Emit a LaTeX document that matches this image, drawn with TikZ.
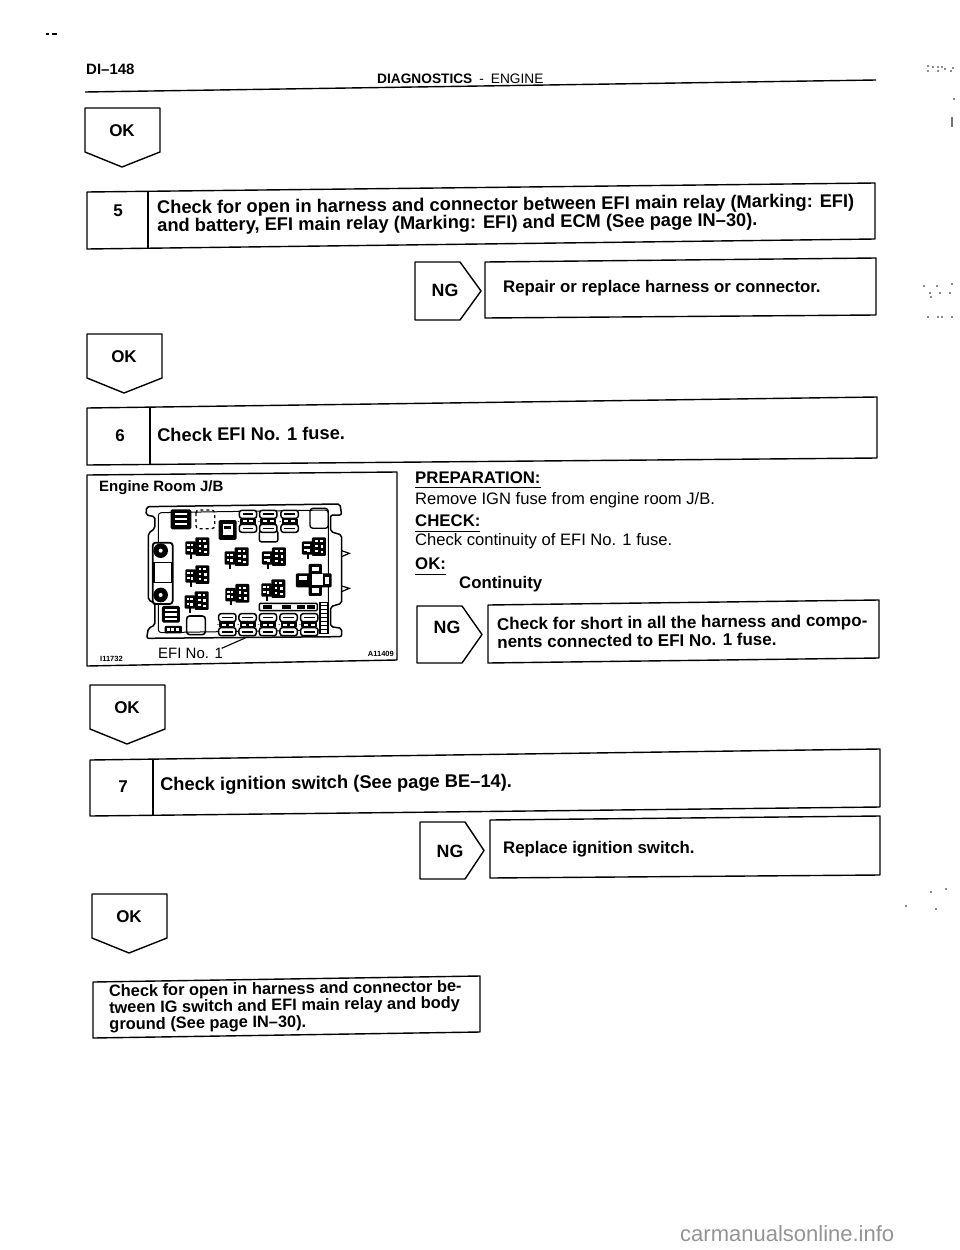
\documentclass[tikz,border=0pt]{standalone}
\usepackage{fontspec}
\setmainfont{Liberation Sans}
\usetikzlibrary{calc}
\newcommand{\bodysize}{\fontsize{18.3}{18}\selectfont}
\tikzset{
  x=1pt,y=-1pt,
  shp/.style={draw=black,line width=1.4pt,line join=round,fill=white},
  rulel/.style={draw=black,line width=1.4pt},
  bt/.style={inner sep=0pt,anchor=west,font=\bodysize\bfseries,align=left,text=black},
  bs/.style={inner sep=0pt,anchor=west,font=\fontsize{16.8}{17}\selectfont\bfseries,align=left,text=black},
  rt/.style={inner sep=0pt,anchor=west,font=\fontsize{16.6}{18}\selectfont,text=black},
  lab/.style={inner sep=0pt,font=\fontsize{17}{18}\selectfont\bfseries,text=black},
  ul/.style={draw=black,line width=1pt},
  fz/.style={fill=black},
  ln/.style={draw=black,line width=1.5pt,fill=none,line join=round},
  lobe/.style={draw=black,line width=1.5pt,fill=white,rounded corners=2.5pt},
  wt/.style={fill=white},
  speck/.style={fill=black!45},
}
% OK tag: name, x, y
\newcommand{\oktag}[3]{
  \draw[shp] (#2,#3) -- ++(75,0) -- ++(0,44) -- ++(-38,15) -- ++(-37,-15) -- cycle;
  \node[lab] (#1) at ($(#2,#3)+(37,23)$) {OK};
}
% NG tag: name, x, top, bottom, shoulder x, tip x, label y
\newcommand{\ngtag}[7]{
  \draw[shp] (#2,#3) -- (#5,#3) -- (#6,{(#3+#4)/2}) -- (#5,#4) -- (#2,#4) -- cycle;
  \node[lab,font=\fontsize{17.8}{18}\selectfont\bfseries] (#1) at ({#2+30},#7) {NG};
}
% small relay block (zoom coordinates)
\newcommand{\relayblock}[2]{
  \begin{scope}[shift={(#1,#2)}]
    \fill[fz,rounded corners=1pt] (-36,-18) rectangle (-4,22);
    \fill[fz,rounded corners=1pt] (-6,-30) rectangle (36,26);
    \fill[fz] (-22,20) rectangle (-16,34);
    \foreach \a/\b in {-30/-10,-20/-10,-30/4,-20/6,4/-22,18/-22,4/-8,20/-6,4/8,20/10}
      \fill[wt] (\a,\b) rectangle ++(8,7);
  \end{scope}
}
% fuse stack (zoom coordinates)
\newcommand{\fusestack}[2]{
  \begin{scope}[shift={(#1,#2)}]
    \fill[fz] (-24,-8) rectangle (24,8);
    \draw[lobe] (-26,-33) rectangle (26,-9);
    \draw[lobe] (-26,9) rectangle (26,33);
    \fill[wt] (-16,-3) rectangle (-4,3);
    \fill[wt] (4,-3) rectangle (16,3);
    \fill[fz] (-26,-1) -- (-32,0) -- (-26,1) -- cycle;
    \fill[fz] (-16,-24) rectangle (16,-19);
    \fill[fz] (-16,19) rectangle (16,24);
  \end{scope}
}
\begin{document}
\begin{tikzpicture}
\useasboundingbox (0,0) rectangle (960,1250);
\fill[white] (0,0) rectangle (960,1250);

% header
\node[lab,anchor=west,font=\fontsize{15}{15}\selectfont\bfseries] (page) at (86,69) {DI--148};
\node[inner sep=0pt,anchor=west,font=\fontsize{13.7}{14}\selectfont] (title) at (377,79) {\textbf{DIAGNOSTICS}\hspace{7pt}-\hspace{7pt}ENGINE};
\coordinate (ruleA) at (85,92);
\coordinate (ruleB) at (876,80);
\draw[rulel] (ruleA) -- (ruleB);
\fill[black] (52,33) rectangle (57,35);
\fill[black] (46,33) rectangle (49,34.5);

% step 5
\oktag{ok1}{85}{108}
\draw[shp] (87,192) -- (875,183) -- (875,239) -- (87,249) -- cycle;
\draw[rulel] (148,191) -- (148,249);
\node[lab] (n5) at (118,211) {5};
\node[bt,rotate=0.55] (t5) at (157,218) {Check for open in harness and connector between EFI main relay (Marking: EFI)\\and battery, EFI main relay (Marking: EFI) and ECM (See page IN--30).};
\ngtag{ng1}{415}{262}{320}{460}{481}{290}
\draw[shp] (485,262) -- (876,258) -- (876,315) -- (485,318) -- cycle;
\node[bs] (t5b) at (503,288) {Repair or replace harness or connector.};

% step 6
\oktag{ok2}{87}{334}
\draw[shp] (87,408) -- (877,397) -- (877,458) -- (87,465) -- cycle;
\draw[rulel] (150,407) -- (150,465);
\node[lab] (n6) at (120,436) {6};
\node[bt,rotate=0.6] (t6) at (157,435) {Check EFI No. 1 fuse.};

% picture box
\draw[shp] (87,475) -- (397,472) -- (397,660) -- (87,666) -- cycle;
\node[inner sep=0pt,anchor=west,font=\fontsize{15}{15}\selectfont\bfseries] (jb) at (99,488) {Engine Room J/B};
\begin{scope}[shift={(80,460)},x=0.3333pt,y=-0.3333pt]
  % housing outline
  \draw[ln,rounded corners=2pt] (200,140) -- (780,132) -- (785,165) -- (752,165) -- (752,215) -- (785,225) -- (785,262) -- (785,430) -- (752,440) -- (752,500) -- (785,505) -- (785,530) -- (200,535) -- (205,505) -- (225,495) -- (225,430) -- (205,420) -- (205,220) -- (225,205) -- (225,170) -- (198,165) -- cycle;
  \draw[line width=1pt,rounded corners=3pt] (235,158) -- (745,150) -- (745,510) -- (235,518) -- cycle;
  \draw[line width=1.2pt] (785,272) -- (808,280) -- (785,290);
  \draw[line width=1.2pt] (785,378) -- (808,385) -- (785,395);
  % left large fuse
  \draw[line width=1.8pt,fill=white,rounded corners=3pt] (218,248) rectangle (278,432);
  \fill[black] (242,272) circle (22);
  \fill[black] (242,405) circle (22);
  \fill[white] (242,272) circle (6);
  \fill[white] (242,405) circle (6);
  \draw[line width=1.4pt] (222,308) rectangle (274,368);
  % top row
  \fill[fz,rounded corners=1.5pt] (272,148) rectangle (334,208);
  \foreach \y in {160,175,190} \fill[wt] (284,\y) rectangle (322,\y+6);
  \draw[line width=1.3pt,dashed,rounded corners=3pt] (348,150) rectangle (404,206);
  \fill[fz,rounded corners=1.5pt] (416,180) rectangle (470,240);
  \fill[wt] (428,192) rectangle (458,226);
  \fill[fz] (432,198) rectangle (454,206);
  \draw[lobe] (538,212) rectangle (594,246);
  \fusestack{504}{184}
  \fusestack{565}{184}
  \fusestack{629}{184}
  \draw[line width=1.3pt,rounded corners=3pt] (690,145) rectangle (745,205);
  % relay blocks
  \relayblock{352}{262}
  \relayblock{470}{292}
  \relayblock{582}{292}
  \relayblock{702}{262}
  \relayblock{352}{346}
  \relayblock{472}{402}
  \relayblock{580}{388}
  \relayblock{350}{424}
  % cross block
  \fill[fz,rounded corners=1pt] (648,340) rectangle (755,382);
  \fill[fz,rounded corners=1pt] (686,312) rectangle (726,408);
  \fill[wt] (658,348) rectangle (680,360);
  \fill[wt] (696,322) rectangle (716,332);
  \fill[wt] (696,342) rectangle (730,374);
  \fill[wt] (734,350) rectangle (748,372);
  \fill[wt] (696,384) rectangle (716,398);
  % lower left
  \fill[fz,rounded corners=1.5pt] (246,438) rectangle (300,488);
  \foreach \y in {446,460,474} \fill[wt] (254,\y) rectangle (292,\y+7);
  \fill[fz,rounded corners=1pt] (254,498) rectangle (306,520);
  \foreach \a in {260,274,288} \fill[wt] (\a,504) rectangle (\a+9,514);
  \draw[line width=1.6pt,rounded corners=3pt] (320,468) rectangle (376,524);
  % bottom row
  \fusestack{442}{494}
  \fusestack{503}{494}
  \fusestack{564}{494}
  \fusestack{626}{494}
  \fusestack{688}{494}
  % strip
  \draw[line width=1.4pt,fill=white,rounded corners=1pt] (538,430) rectangle (712,452);
  \foreach \a in {550,606,650,680} \fill[fz] (\a,436) rectangle (\a+26,446);
  \draw[line width=1.4pt,fill=white] (720,428) rectangle (744,520);
  \foreach \y in {436,448,...,512} \draw[line width=1pt] (724,\y) -- (740,\y);
  % leader
  \coordinate (leadA) at (425,565);
  \coordinate (leadB) at (500,532);
  \draw[line width=1.1pt] (leadA) -- (leadB);
\end{scope}
\node[inner sep=0pt,anchor=west,font=\fontsize{15}{17}\selectfont] (efi) at (158,653) {EFI No. 1};
\node[inner sep=0pt,anchor=west,font=\fontsize{7.5}{8}\selectfont\bfseries] (ia) at (100,659) {I11732};
\node[inner sep=0pt,anchor=east,font=\fontsize{7.5}{8}\selectfont\bfseries] (ib) at (394,654) {A11409};

% right text
\node[bs] (prep) at (415,478) {PREPARATION:};
\draw[ul] (415,487) -- (541,487);
\node[rt] (rem) at (415,500) {Remove IGN fuse from engine room J/B.};
\node[bs] (chk) at (415,521) {CHECK:};
\draw[ul] (415,531) -- (480,531);
\node[rt] (cont) at (415,541) {Check continuity of EFI No. 1 fuse.};
\node[bs] (okt) at (415,564) {OK:};
\draw[ul] (415,574) -- (446,574);
\node[bs] (conti) at (459,584) {Continuity};
\ngtag{ng2}{417}{606}{663}{462}{482}{627}
\draw[shp] (488,605) -- (879,600) -- (879,658) -- (488,663) -- cycle;
\node[bt,font=\fontsize{17}{18}\selectfont\bfseries,rotate=0.6] (t6b) at (497,633) {Check for short in all the harness and compo-\\nents connected to EFI No. 1 fuse.};

% step 7
\oktag{ok3}{90}{685}
\draw[shp] (90,760) -- (880,749) -- (880,807) -- (90,816) -- cycle;
\draw[rulel] (153,759) -- (153,816);
\node[lab] (n7) at (123,787) {7};
\node[bt,rotate=0.6] (t7) at (160,786) {Check ignition switch (See page BE--14).};
\ngtag{ng3}{420}{822}{879}{465}{484}{851}
\draw[shp] (490,820) -- (880,816) -- (880,875) -- (490,878) -- cycle;
\node[bs] (t7b) at (503,849) {Replace ignition switch.};

% end
\oktag{ok4}{92}{894}
\draw[shp] (93,982) -- (480,976) -- (480,1032) -- (93,1038) -- cycle;
\node[bt,font=\fontsize{16.4}{16.5}\selectfont\bfseries,rotate=0.8] (tend) at (109,1009) {Check for open in harness and connector be-\\tween IG switch and EFI main relay and body\\ground (See page IN--30).};

% scan specks
\foreach \a/\b in {927/65,932/66,937/66,941/66,944/68,952/67,927/70,937/70,950/70,953/98,923/285,936/285,951/283,929/292,939/292,949/292,930/296,927/316,937/316,941/316,951/316,930/891,945/888,905/905,935/908}
  \fill[speck] (\a,\b) rectangle ++(1.5,1.5);
\fill[black!55] (951,117) rectangle (952.5,127);

% watermark
\node[inner sep=0pt,anchor=base west,text=black!42,font=\fontsize{22}{24}\selectfont] (wm) at (680,1241) {carmanualsonline.info};
\end{tikzpicture}
\end{document}
